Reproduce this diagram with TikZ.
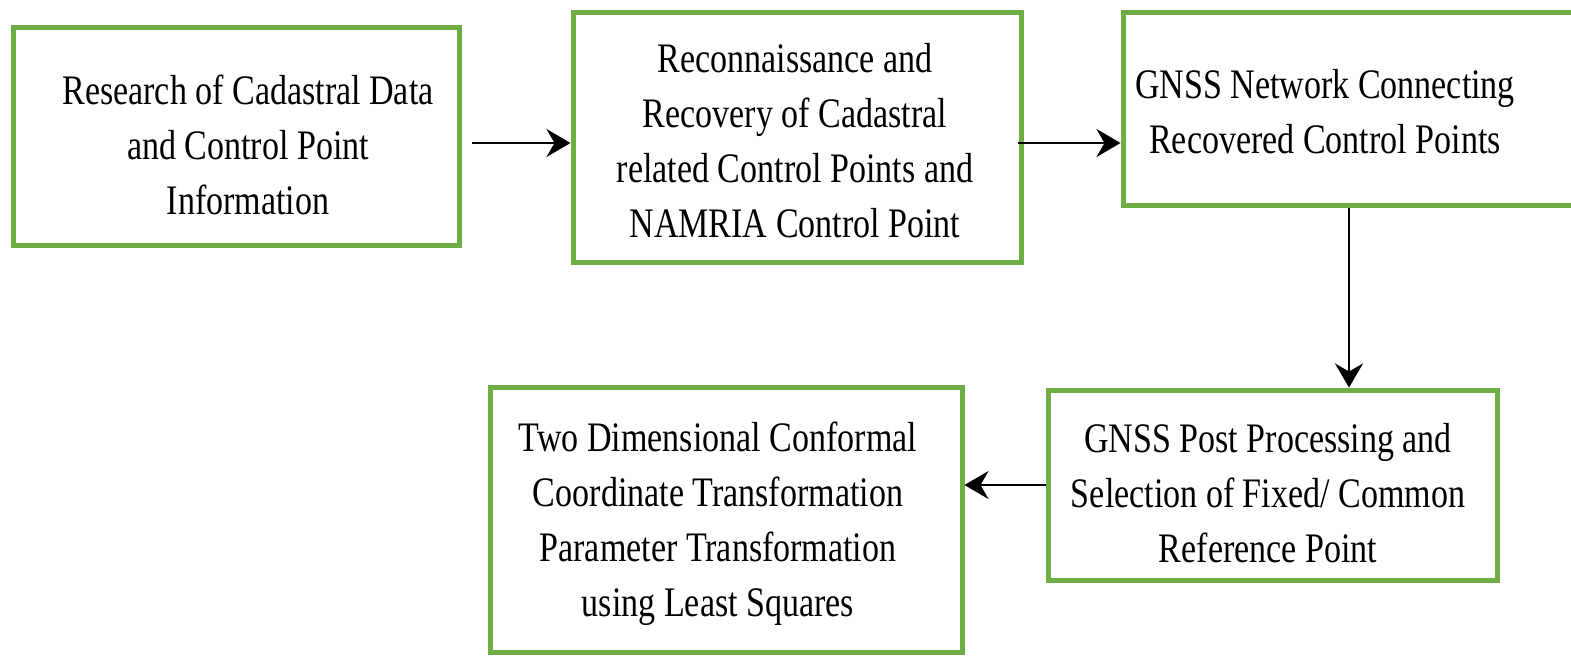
\documentclass[tikz,border=0pt]{standalone}
\usepackage{fontspec}
\newfontfamily\stagefont[FakeStretch=0.81]{Liberation Serif}
\usepackage{tikz}
\usetikzlibrary{arrows.meta}
\definecolor{boxgreen}{HTML}{70AD47}
\tikzstyle{stage} = [draw=boxgreen,line width=2.5pt,inner sep=0pt]
\tikzstyle{caption} = [inner sep=0pt,align=center,font=\stagefont\fontsize{21pt}{27.5pt}\selectfont]
\tikzstyle{flow} = [line width=1.2pt,arrows={-Stealth[length=12pt,width=14pt,inset=4pt]}]

\begin{document}
\begin{tikzpicture}[x=0.5pt,y=-0.5pt]
		\useasboundingbox (0,0) rectangle (1571,655);

		\node (s1)[stage,minimum width=223pt,minimum height=109pt] at (236,136) {};
		\node (t1)[caption] at (248,145) {Research of Cadastral Data\\ and Control Point\\ Information};

		\node (s2)[stage,minimum width=224pt,minimum height=125pt] at (797,137) {};
		\node (t2)[caption] at (795,141) {Reconnaissance and\\ Recovery of Cadastral\\ related Control Points and\\ NAMRIA Control Point};

		\node (s3)[stage,minimum width=226pt,minimum height=96.5pt] at (1349,108.5) {};
		\node (t3)[caption] at (1325,112) {GNSS Network Connecting\\ Recovered Control Points};

		\node (s4)[stage,minimum width=224.5pt,minimum height=95pt] at (1272.5,485) {};
		\node (t4)[caption] at (1268,493) {GNSS Post Processing and\\ Selection of Fixed/ Common\\ Reference Point};

		\node (s5)[stage,minimum width=236pt,minimum height=132.5pt] at (726,519.5) {};
		\node (t5)[caption] at (718,524) {Two Dimensional Conformal\\ Coordinate Transformation\\ Parameter Transformation\\ using Least Squares};

		\coordinate (a1) at (472,143);
		\coordinate (a2) at (1018,143);

		\draw[flow] (a1) -- (a1 -| s2.west);
		\draw[flow] (a2) -- (a2 -| s3.west);
		\draw[flow] (s3.south) -- (s3.south |- s4.north);
		\draw[flow] (s4.west) -- (s4.west -| s5.east);
	\end{tikzpicture}
\end{document}
